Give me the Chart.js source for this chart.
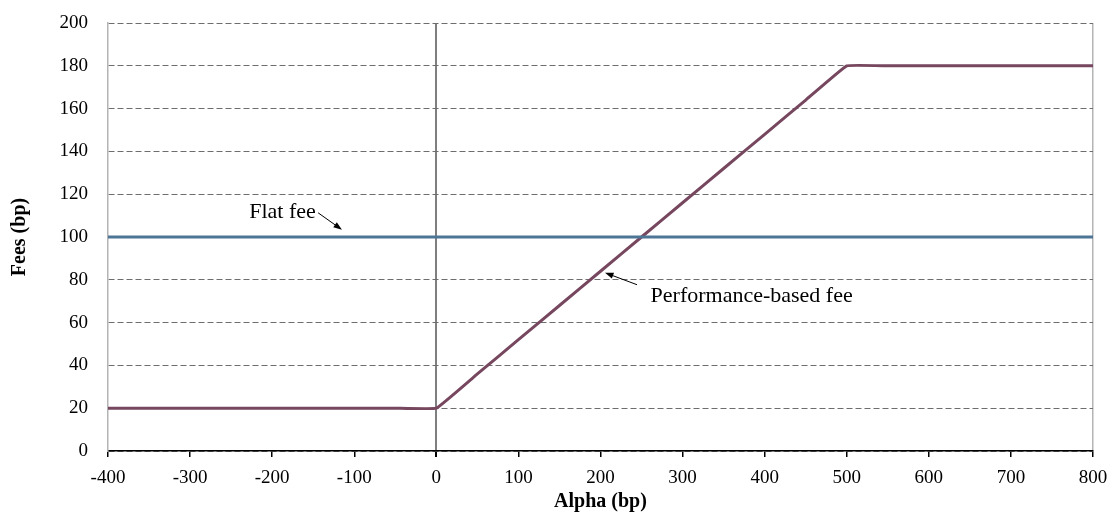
<!DOCTYPE html>
<html>
<head>
<meta charset="utf-8">
<script src="https://cdn.jsdelivr.net/npm/chart.js@4/dist/chart.umd.min.js"></script>
<style>
    html, body { margin: 0; padding: 0; background: #fff; }
    #wrap { width: 1111px; height: 517px; }
</style>
</head>
<body>
<div id="wrap"><canvas id="fees"></canvas></div>
<script>
'use strict';

// values
const alphaValues = [-400, -350, -300, -250, -200, -150, -100, -50, 0, 50, 100, 150, 200, 250, 300, 350, 400, 450, 500, 550, 600, 650, 700, 750, 800];
const performanceFee = [20, 20, 20, 20, 20, 20, 20, 20, 20, 36, 52, 68, 84, 100, 116, 132, 148, 164, 180, 180, 180, 180, 180, 180, 180];
const flatAlpha = [-400, 800];
const flatFee = [100, 100];
const xTicks = { min: -400, max: 800, step: 100 };
const yTicks = { min: 0, max: 200, step: 20 };

// text labels with arrows, in data units
const notes = [
    { text: 'Flat fee', x: -228, y: 111.7, from: [-144, 111.3], to: [-115, 103.4], align: 'left' },
    { text: 'Performance-based fee', x: 261, y: 72.5, from: [244.5, 77.7], to: [205.5, 83.3], align: 'left' }
];

const serif = "'Liberation Serif', 'Times New Roman', serif";

function toPoints (xs, ys) {
    return xs.map((x, i) => ({ x: x, y: ys[i] }));
}

// draws the notes and their arrows
const notesPlugin = {
    id: 'notes',
    afterDatasetsDraw (chart) {
        const ctx = chart.ctx;
        const xs = chart.scales.x;
        const ys = chart.scales.y;
        ctx.save();
        ctx.font = '22px ' + serif;
        ctx.fillStyle = '#000';
        ctx.textBaseline = 'middle';
        notes.forEach((n) => {
            ctx.textAlign = n.align;
            ctx.fillText(n.text, xs.getPixelForValue(n.x), ys.getPixelForValue(n.y));

            let x1 = xs.getPixelForValue(n.from[0]);
            let y1 = ys.getPixelForValue(n.from[1]);
            let x2 = xs.getPixelForValue(n.to[0]);
            let y2 = ys.getPixelForValue(n.to[1]);
            let ang = Math.atan2(y2 - y1, x2 - x1);

            ctx.strokeStyle = '#000';
            ctx.lineWidth = 1;
            ctx.beginPath();
            ctx.moveTo(x1, y1);
            ctx.lineTo(x2 - 6 * Math.cos(ang), y2 - 6 * Math.sin(ang));
            ctx.stroke();

            ctx.beginPath();
            ctx.moveTo(x2, y2);
            ctx.lineTo(x2 - 9 * Math.cos(ang - 0.35), y2 - 9 * Math.sin(ang - 0.35));
            ctx.lineTo(x2 - 9 * Math.cos(ang + 0.35), y2 - 9 * Math.sin(ang + 0.35));
            ctx.closePath();
            ctx.fill();
        });
        ctx.restore();
    }
};

new Chart(document.getElementById('fees'), {
    type: 'line',
    data: {
        datasets: [{
            label: 'Flat fee',
            data: toPoints(flatAlpha, flatFee),
            borderColor: '#4d7596',
            borderWidth: 3,
            pointRadius: 0,
            tension: 0
        }, {
            label: 'Performance-based fee',
            data: toPoints(alphaValues, performanceFee),
            borderColor: '#76475e',
            borderWidth: 3,
            pointRadius: 0,
            tension: 0.07
        }]
    },
    options: {
        responsive: true,
        maintainAspectRatio: false,
        animation: false,
        layout: {
            padding: { top: 23, right: 18, left: 0, bottom: 0 }
        },
        plugins: {
            legend: { display: false },
            tooltip: { enabled: false }
        },
        scales: {
            x: {
                type: 'linear',
                min: xTicks.min,
                max: xTicks.max,
                afterFit: (s) => {
                    s.height = 66;
                    s.paddingLeft = 0;
                    s.paddingRight = 0;
                },
                ticks: {
                    stepSize: xTicks.step,
                    color: '#000',
                    padding: 10,
                    font: { family: serif, size: 19 }
                },
                grid: {
                    color: (c) => {
                        if (c.tick && c.tick.value === 0) return '#7f7f7f';
                        if (c.tick && c.tick.value === xTicks.max) return '#b4b4b4';
                        return 'rgba(0,0,0,0)';
                    },
                    lineWidth: (c) => (c.tick && c.tick.value === 0) ? 2 : 1.5,
                    tickColor: '#000',
                    tickLength: 6
                },
                border: { color: '#000', width: 1.5 },
                title: {
                    display: true,
                    text: 'Alpha (bp)',
                    color: '#000',
                    padding: { top: 0, bottom: 3 },
                    font: { family: serif, size: 20, weight: 'bold' }
                }
            },
            y: {
                min: yTicks.min,
                max: yTicks.max,
                afterFit: (s) => {
                    s.width = 108;
                    s.paddingTop = 0;
                    s.paddingBottom = 0;
                },
                ticks: {
                    stepSize: yTicks.step,
                    color: '#000',
                    padding: 20,
                    font: { family: serif, size: 19 }
                },
                grid: {
                    color: '#6e6e6e',
                    lineWidth: 1,
                    drawTicks: false
                },
                border: { color: '#b4b4b4', width: 1.5, dash: [6, 3] },
                title: {
                    display: true,
                    text: 'Fees (bp)',
                    color: '#000',
                    padding: { top: 8, bottom: 0 },
                    font: { family: serif, size: 20, weight: 'bold' }
                }
            }
        }
    },
    plugins: [notesPlugin]
});
</script>
</body>
</html>
